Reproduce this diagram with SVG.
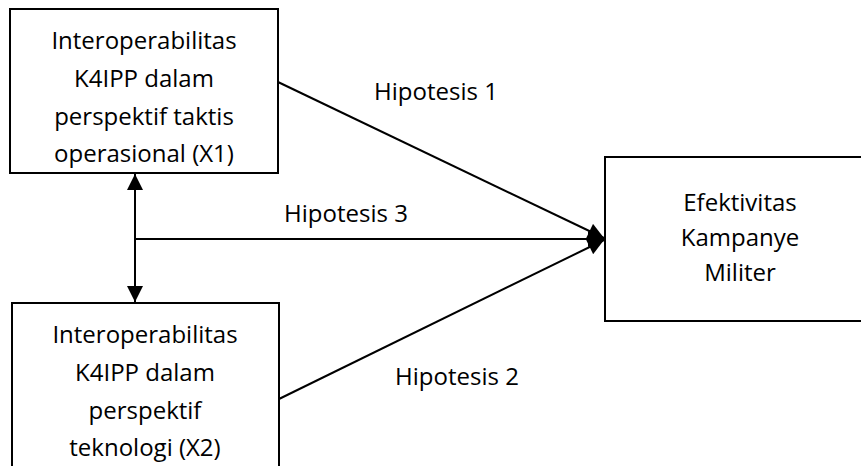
<svg xmlns="http://www.w3.org/2000/svg" width="861" height="466" viewBox="0 0 861 466">
  <style>
    .box { fill: #ffffff; stroke: #000000; stroke-width: 2; }
    .lbl { font-family: "Open Sans", "Liberation Sans", sans-serif; font-size: 24px; fill: #000000; text-anchor: middle; }
    .edge { stroke: #000000; stroke-width: 2; fill: none; }
  </style>
  <defs>
    <marker id="arrow" viewBox="0 0 10 10" refX="10" refY="5" markerWidth="8.5" markerHeight="8" orient="auto-start-reverse" markerUnits="strokeWidth">
      <path d="M0,0 L10,5 L0,10 Z" fill="#000000"/>
    </marker>
  </defs>
  <rect width="861" height="466" fill="#ffffff"/>

  <g id="node-x1">
    <rect class="box" x="10" y="9" width="268" height="164"/>
    <text class="lbl" x="144" y="49">Interoperabilitas</text>
    <text class="lbl" x="144" y="87">K4IPP dalam</text>
    <text class="lbl" x="144" y="125">perspektif taktis</text>
    <text class="lbl" x="144" y="162">operasional (X1)</text>
  </g>

  <g id="node-x2">
    <rect class="box" x="12" y="303" width="267" height="180"/>
    <text class="lbl" x="145" y="343">Interoperabilitas</text>
    <text class="lbl" x="145" y="381">K4IPP dalam</text>
    <text class="lbl" x="145" y="419">perspektif</text>
    <text class="lbl" x="145" y="456">teknologi (X2)</text>
  </g>

  <g id="node-y">
    <rect class="box" x="605" y="157" width="260" height="164"/>
    <text class="lbl" x="740" y="211">Efektivitas</text>
    <text class="lbl" x="740" y="246">Kampanye</text>
    <text class="lbl" x="740" y="281">Militer</text>
  </g>

  <g id="connectors">
    <line class="edge" x1="135" y1="174" x2="135" y2="302" marker-start="url(#arrow)" marker-end="url(#arrow)"/>
    <line class="edge" x1="135" y1="239" x2="604" y2="239" marker-end="url(#arrow)"/>
    <line class="edge" x1="278" y1="82" x2="604" y2="238" marker-end="url(#arrow)"/>
    <line class="edge" x1="279" y1="399" x2="604" y2="240" marker-end="url(#arrow)"/>
    <text class="lbl" x="436" y="100">Hipotesis 1</text>
    <text class="lbl" x="346" y="222">Hipotesis 3</text>
    <text class="lbl" x="457" y="385">Hipotesis 2</text>
  </g>
</svg>
